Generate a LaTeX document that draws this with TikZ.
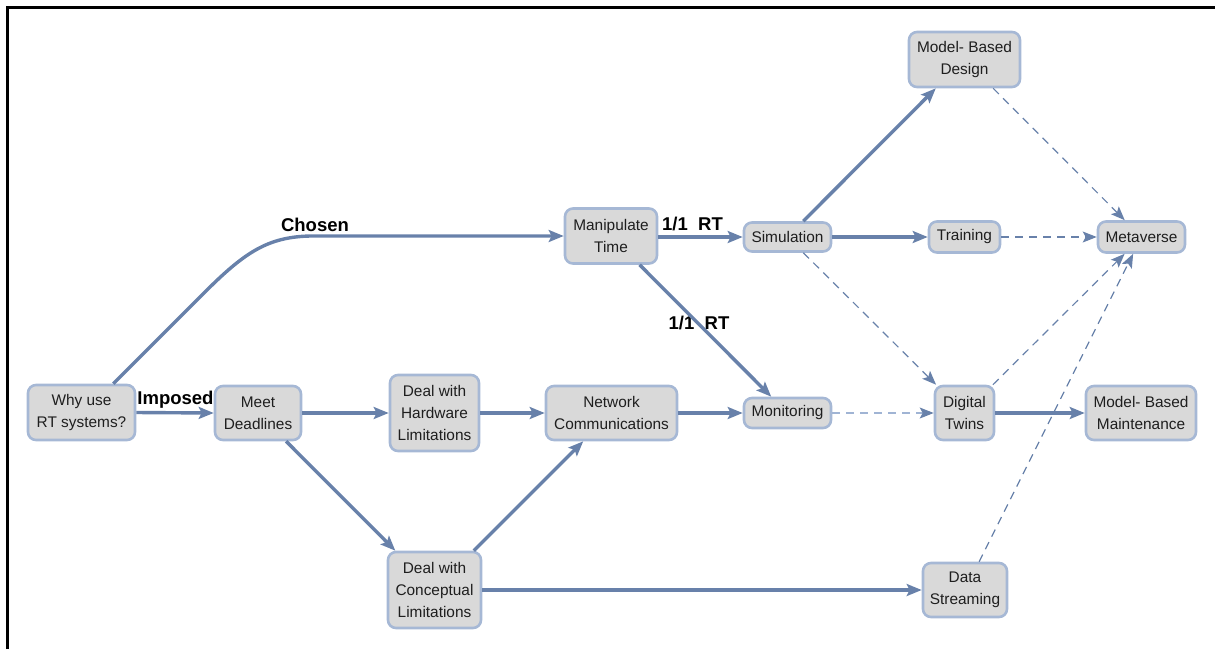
\documentclass[tikz,border=0pt]{standalone}
\usepackage{fontspec}
\setmainfont{Liberation Sans}
\usetikzlibrary{arrows.meta}
\definecolor{edgec}{RGB}{104,129,170}
\definecolor{edgelight}{RGB}{160,180,212}
\definecolor{boxborder}{RGB}{166,184,213}
\definecolor{boxfill}{RGB}{217,217,217}
\definecolor{txt}{RGB}{30,30,30}
\tikzset{
  box/.style={draw=boxborder, fill=boxfill, line width=2.6pt, rounded corners=8pt,
    align=center, inner sep=2pt, text=txt, font=\fontsize{15.4}{21.7}\selectfont},
  edge/.style={draw=edgec, line width=3.4pt, -{Stealth[length=15pt,width=12pt,inset=3pt]}},
  dedge/.style={draw=edgec, line width=1.2pt, dash pattern=on 8pt off 6pt,
    -{Stealth[length=14pt,width=11pt,inset=3pt]}},
  lbl/.style={font=\bfseries\fontsize{18.5}{20}\selectfont, text=black, inner sep=0pt},
  frame/.style={draw=black, line width=2.6pt}
}
\begin{document}
\begin{tikzpicture}[x=1pt,y=-1pt]
\useasboundingbox (0,0) rectangle (1215,649);
\coordinate (fbl) at (7.5,649);
\coordinate (ftl) at (7.5,7.5);
\coordinate (ftr) at (1215,7.5);
\draw[frame] (fbl) -- (ftl) -- (ftr);

\node[box, minimum width=107pt, minimum height=55pt] (why) at (81.5,412.5) {Why use\\RT systems?};
\node[box, minimum width=86pt, minimum height=54pt] (meet) at (258,413) {Meet\\Deadlines};
\node[box, minimum width=89pt, minimum height=76pt] (hw) at (434.5,413) {Deal with\\Hardware\\Limitations};
\node[box, minimum width=93pt, minimum height=76pt] (conc) at (434.5,590) {Deal with\\Conceptual\\Limitations};
\node[box, minimum width=131pt, minimum height=54pt] (net) at (611.5,413) {Network\\Communications};
\node[box, minimum width=92pt, minimum height=55pt] (manip) at (611,236) {Manipulate\\Time};
\node[box, minimum width=87pt, minimum height=29pt] (sim) at (787.5,237) {Simulation};
\node[box, minimum width=87pt, minimum height=30pt] (mon) at (787.5,413) {Monitoring};
\node[box, minimum width=111pt, minimum height=55pt] (mbd) at (964.5,59.5) {Model- Based\\Design};
\node[box, minimum width=71pt, minimum height=31pt] (train) at (964.5,237) {Training};
\node[box, minimum width=87pt, minimum height=31pt] (meta) at (1141.5,237) {Metaverse};
\node[box, minimum width=59pt, minimum height=54pt] (dt) at (964.5,413) {Digital\\Twins};
\node[box, minimum width=110pt, minimum height=54pt] (mbm) at (1141,413) {Model- Based\\Maintenance};
\node[box, minimum width=84pt, minimum height=54pt] (ds) at (965,590) {Data\\Streaming};

\node[lbl] (lchosen) at (315,225) {Chosen};
\node[lbl] (limposed) at (175.5,400) {Imposed};
\node[lbl] (lrt1) at (692.5,224) {1/1\ \ RT};
\node[lbl] (lrt2) at (699,323) {1/1\ \ RT};

\draw[edge] ([xshift=-23pt]why.north east) -- (205,292) .. controls (245,252) and (268,237) .. (310,236) -- (manip.west);
\draw[edge] (why.east) -- (meet.west);
\draw[edge] (meet.east) -- (hw.west);
\draw[edge] (meet) -- (conc);
\draw[edge] (hw.east) -- (net.west);
\draw[edge] (conc) -- (net);
\draw[edge] (net.east) -- (mon.west);
\draw[edge] (conc.east) -- (ds.west);
\draw[edge] (manip.east |- sim.west) -- (sim.west);
\draw[edge] (manip) -- (mon);
\draw[edge] (sim) -- (mbd);
\draw[edge] (sim.east) -- (train.west);
\draw[edge] (dt.east) -- (mbm.west);

\draw[dedge] (sim) -- (dt);
\draw[dedge] (train.east) -- (meta.west);
\draw[dedge] (mbd) -- (meta);
\draw[dedge, draw=edgelight, -{Stealth[length=14pt,width=11pt,inset=3pt,color=edgec]}] (mon.east) -- (dt.west);
\draw[dedge] (dt) -- (meta);
\draw[dedge] (ds) -- (meta);
\end{tikzpicture}
\end{document}
